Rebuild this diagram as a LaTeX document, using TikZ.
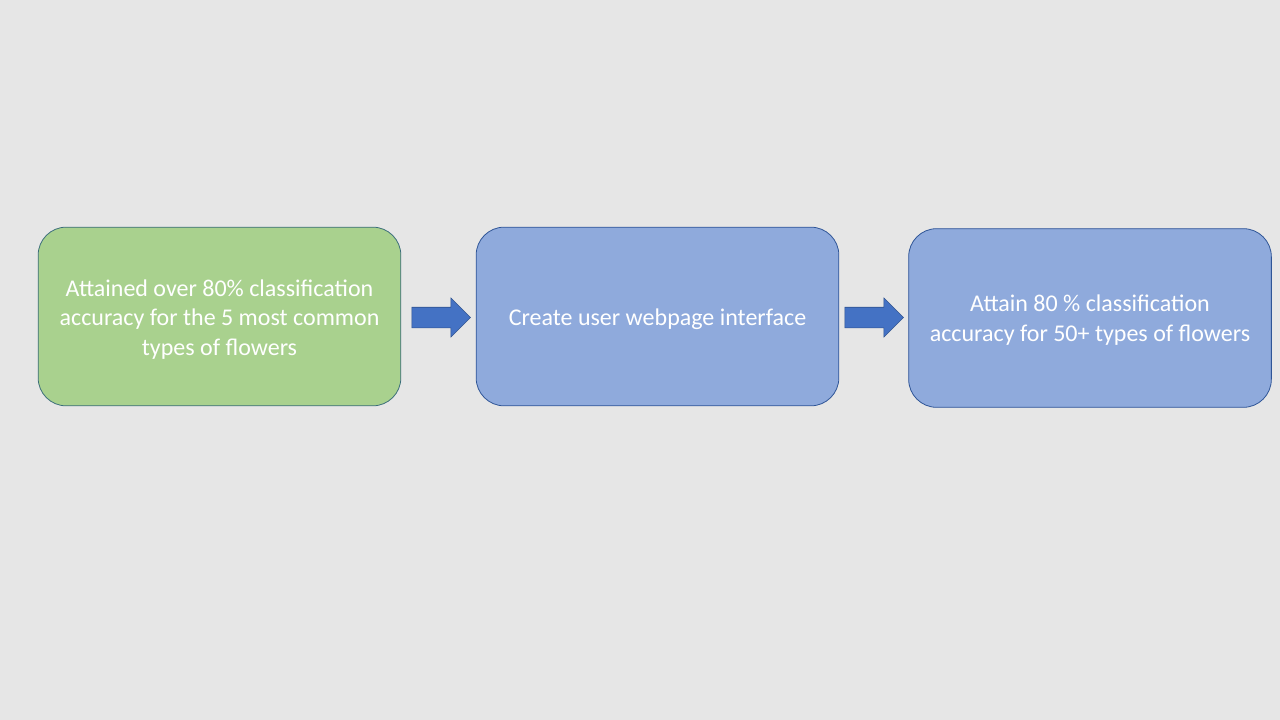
\documentclass[tikz,border=0pt]{standalone}
\usepackage{fontspec}
\setmainfont{Carlito}
\usetikzlibrary{shapes.arrows}
\definecolor{slideBg}{HTML}{E6E6E6}
\definecolor{doneFill}{HTML}{A9D18E}
\definecolor{doneLine}{HTML}{3B6E7A}
\definecolor{todoFill}{HTML}{8FAADC}
\definecolor{todoLine}{HTML}{2F5597}
\definecolor{arrowFill}{HTML}{4472C4}
\definecolor{arrowLine}{HTML}{2F528F}

\begin{document}
\begin{tikzpicture}
[x=0.75pt,y=-0.75pt,
  boxDecorate/.style={rectangle,rounded corners=21pt,draw,semithick,
    minimum width=272pt,minimum height=134pt,inner sep=0pt},%
  textDecorate/.style={align=center,text=white,inner sep=0pt,
    font=\fontsize{18}{22}\selectfont},%
  arrowDecorate/.style={single arrow,draw=arrowLine,fill=arrowFill,thin,
    inner xsep=0pt,inner ysep=7.5pt,minimum height=44pt,
    single arrow head extend=7pt,single arrow head indent=0pt}]
%% slide background
\fill[slideBg] (0,0) rectangle (1280,720);
\useasboundingbox (0,0) rectangle (1280,720);
%% goal boxes
\foreach \nodename/\x/\y/\boxcolor in {attained/219.5/316.5/done, webpage/657.5/316.5/todo, attain/1090/318/todo}
{
  \node (\nodename) at (\x,\y) [boxDecorate,fill=\boxcolor Fill,draw=\boxcolor Line] {};
}
%% goal texts
\node (attainedText) at ([yshift=-2.25pt]attained.center) [textDecorate]
  {Attained over 80\% classification\\accuracy for the 5 most common\\types of flowers};
\node (webpageText) at ([yshift=-2.25pt]webpage.center) [textDecorate]
  {Create user webpage interface};
\node (attainText) at ([yshift=-1.5pt]attain.center) [textDecorate]
  {Attain 80 \% classification\\accuracy for 50+ types of flowers};
%% block arrows
\foreach \arrowname/\x in {firstStep/436, secondStep/869}
{
  \node (\arrowname) at (\x,317.5) [arrowDecorate] {};
}
\end{tikzpicture}
\end{document}
